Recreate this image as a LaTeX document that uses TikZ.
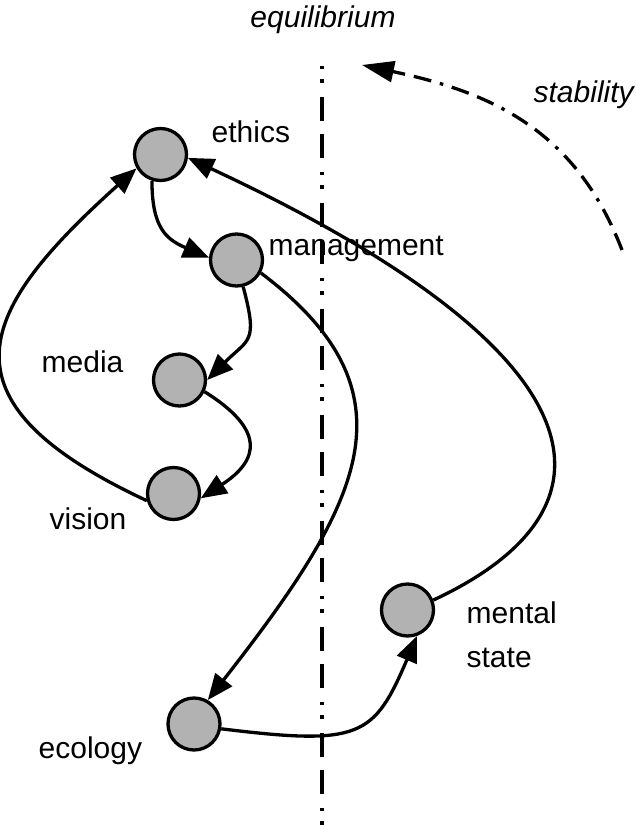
\documentclass[tikz,border=0pt]{standalone}
\usepackage{fontspec}
\setmainfont{Liberation Sans}
\usepackage{tikz}
\usetikzlibrary{arrows.meta}
\tikzset{
    place/.style={
        circle,
        draw=black,
        fill=black!30,
        line width=3.3pt,
        inner sep=0pt,
        minimum size=52pt,
    },
    tag/.style={
        inner sep=0pt,
        anchor=base west,
        font=\fontsize{30}{36}\selectfont,
    },
    tagit/.style={
        tag,
        font=\fontsize{30}{36}\selectfont\itshape,
    },
}

\begin{document}
\begin{tikzpicture}[x=1pt,y=-1pt,line width=3.3pt,>={Triangle[length=26pt,width=21pt]}]
    \useasboundingbox (0,0) rectangle (636,825);
    % equilibrium axis
    \coordinate (eq-top) at (322,65.5);
    \coordinate (eq-bot) at (322,825);
    \draw [dash pattern=on 3.5pt off 10pt on 3.5pt off 14pt on 24pt off 13pt on 24pt off 14pt] (eq-top) -- (eq-bot);
    \node [tagit,anchor=base] (eq-label) at (323,27) {equilibrium};
    % stability arrow
    \coordinate (stab-from) at (622,250);
    \coordinate (stab-to) at (362,65);
    \path[->,>={Triangle[length=32pt,width=21pt]},dash pattern=on 18pt off 9pt on 18pt off 9pt on 3.5pt off 9pt]
        (stab-from) edge [out=111,in=-12,distance=130pt] (stab-to);
    \node [tagit] (stab-label) at (532,102) {stability};
    % places
    \node [place] (ethics) at (160.5,154.5) {};
    \node [place] (mgmt) at (236.5,260) {};
    \node [place] (media) at (179.5,380) {};
    \node [place] (vision) at (173.5,493.5) {};
    \node [place] (ecology) at (194,724) {};
    \node [place] (mental) at (407.5,610) {};
    \node [tag] (ethics-label) at (210,142) {ethics};
    \node [tag] (mgmt-label) at (267,255) {management};
    \node [tag] (media-label) at (40,372) {media};
    \node [tag] (vision-label) at (48,529) {vision};
    \node [tag] (ecology-label) at (37,758) {ecology};
    \node [tag,align=left,font=\fontsize{30}{44}\selectfont] (mental-label) at (465,667) {mental\\state};
    % links
    \path[->] (ethics.-108) edge [out=-90,in=157,looseness=1.25] (mgmt.175);
    \path[->] (mgmt.-76) edge [out=-75,in=45,looseness=1.5] (media.east);
    \path[->] (media.-25) edge [out=-32,in=33,looseness=1.7] (vision.-10);
    \path[->] (vision.-165) edge [out=155,in=-138,out distance=240pt,in distance=210pt] (ethics.-150);
    \path[->] (mgmt.-28) edge [out=-37,in=52,out distance=200pt,in distance=250pt] (ecology.60);
    \path[->] (ecology.-10) edge [out=-7,in=-113,out distance=140pt,in distance=110pt] (mental.-70);
    \path[->] (mental.21) edge [out=25,in=-25,out distance=220pt,in distance=460pt] (ethics.-7);
\end{tikzpicture}
\end{document}
